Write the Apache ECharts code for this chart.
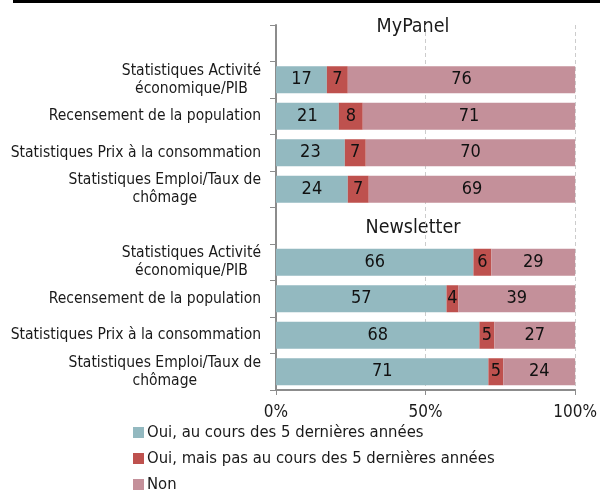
<!DOCTYPE html>
<html>
<head>
<meta charset="utf-8">
<script src="https://cdn.jsdelivr.net/npm/echarts@6/dist/echarts.min.js"></script>
<style>
  html, body { margin: 0; padding: 0; background: #fff; }
  #chart { width: 600px; height: 493px; }
</style>
</head>
<body>
<div id="chart"></div>
<script>
// Survey groups and the statistics asked about in each
const groups = ['MyPanel', 'Newsletter'];
const categories = [
  'Statistiques Activité\néconomique/PIB',
  'Recensement de la population',
  'Statistiques Prix à la consommation',
  'Statistiques Emploi/Taux de\nchômage'
];
const seriesNames = [
  'Oui, au cours des 5 dernières années',
  'Oui, mais pas au cours des 5 dernières années',
  'Non'
];

// Shares (%) per answer, MyPanel
const myPanelRecent = [17, 21, 23, 24];
const myPanelOlder = [7, 8, 7, 7];
const myPanelNo = [76, 71, 70, 69];

// Shares (%) per answer, Newsletter
const newsletterRecent = [66, 57, 68, 71];
const newsletterOlder = [6, 4, 5, 5];
const newsletterNo = [29, 39, 27, 24];

const xTicks = [0, 50, 100];

const FONT = "'Liberation Sans Narrow', 'DejaVu Sans Condensed', 'Noto Sans', sans-serif";
const colors = ['#93B9C0', '#BE514E', '#C4909A'];

// One empty slot above each group holds its heading
const slots = [];
groups.forEach((g, gi) => {
  slots.push('group:' + gi);
  categories.forEach((c, ci) => slots.push('cat:' + gi + ':' + ci));
});
function column(a, b) { return [null].concat(a, [null], b); }
const values = [
  column(myPanelRecent, newsletterRecent),
  column(myPanelOlder, newsletterOlder),
  column(myPanelNo, newsletterNo)
];

const chart = echarts.init(document.getElementById('chart'), null, { renderer: 'canvas' });

const option = {
  backgroundColor: '#ffffff',
  animation: false,
  color: colors,
  textStyle: { fontFamily: FONT },
  grid: { left: 276, right: 24, top: 25, bottom: 103, containLabel: false },
  xAxis: {
    type: 'value',
    min: xTicks[0],
    max: xTicks[xTicks.length - 1],
    interval: xTicks[1] - xTicks[0],
    axisLine: { show: true, lineStyle: { color: '#8c8c8c', width: 2 } },
    axisTick: { show: true, length: 5, lineStyle: { color: '#8c8c8c', width: 1 } },
    axisLabel: {
      formatter: '{value}%', color: '#1a1a1a', fontSize: 17, fontFamily: FONT, margin: 14
    },
    splitLine: { show: true, lineStyle: { color: '#cccccc', type: [4, 3], width: 1 } }
  },
  yAxis: {
    type: 'category',
    inverse: true,
    data: slots,
    axisLine: { show: true, lineStyle: { color: '#8c8c8c', width: 2 } },
    axisTick: { show: true, length: 6, interval: 0, lineStyle: { color: '#8c8c8c', width: 1 } },
    axisLabel: {
      interval: 0,
      margin: 15,
      formatter: function (v) {
        if (v.indexOf('cat:') !== 0) return '';
        const ci = +v.split(':')[2];
        return categories[ci].split('\n').map(l => '{c|' + l + '}').join('\n');
      },
      rich: {
        c: { align: 'center', fontSize: 15.5, fontFamily: FONT, color: '#1a1a1a', lineHeight: 18 }
      }
    },
    splitLine: { show: false }
  },
  legend: {
    orient: 'vertical',
    left: 133,
    top: 424,
    padding: 0,
    icon: 'rect',
    itemWidth: 11,
    itemHeight: 11,
    itemGap: 9,
    textStyle: { fontSize: 16.5, fontFamily: FONT, color: '#1a1a1a', lineHeight: 17, padding: [0, 0, 0, -2] },
    data: seriesNames
  },
  graphic: [
    { type: 'rect', shape: { x: 13, y: 0, width: 587, height: 3 }, style: { fill: '#000' } },
    {
      type: 'text', x: 413, y: 27,
      style: { text: groups[0], fill: '#1a1a1a', fontSize: 19.5, fontFamily: FONT, align: 'center', verticalAlign: 'middle' }
    },
    {
      type: 'text', x: 413, y: 228,
      style: { text: groups[1], fill: '#1a1a1a', fontSize: 19.5, fontFamily: FONT, align: 'center', verticalAlign: 'middle' }
    }
  ],
  series: seriesNames.map((name, i) => ({
    name: name,
    type: 'bar',
    stack: 'total',
    barCategoryGap: '26%',
    data: values[i],
    itemStyle: { color: colors[i] },
    label: {
      show: true,
      position: 'inside',
      color: '#111',
      fontSize: 18,
      fontFamily: FONT,
      formatter: p => (p.value == null ? '' : String(p.value))
    }
  }))
};

chart.setOption(option);
</script>
</body>
</html>
